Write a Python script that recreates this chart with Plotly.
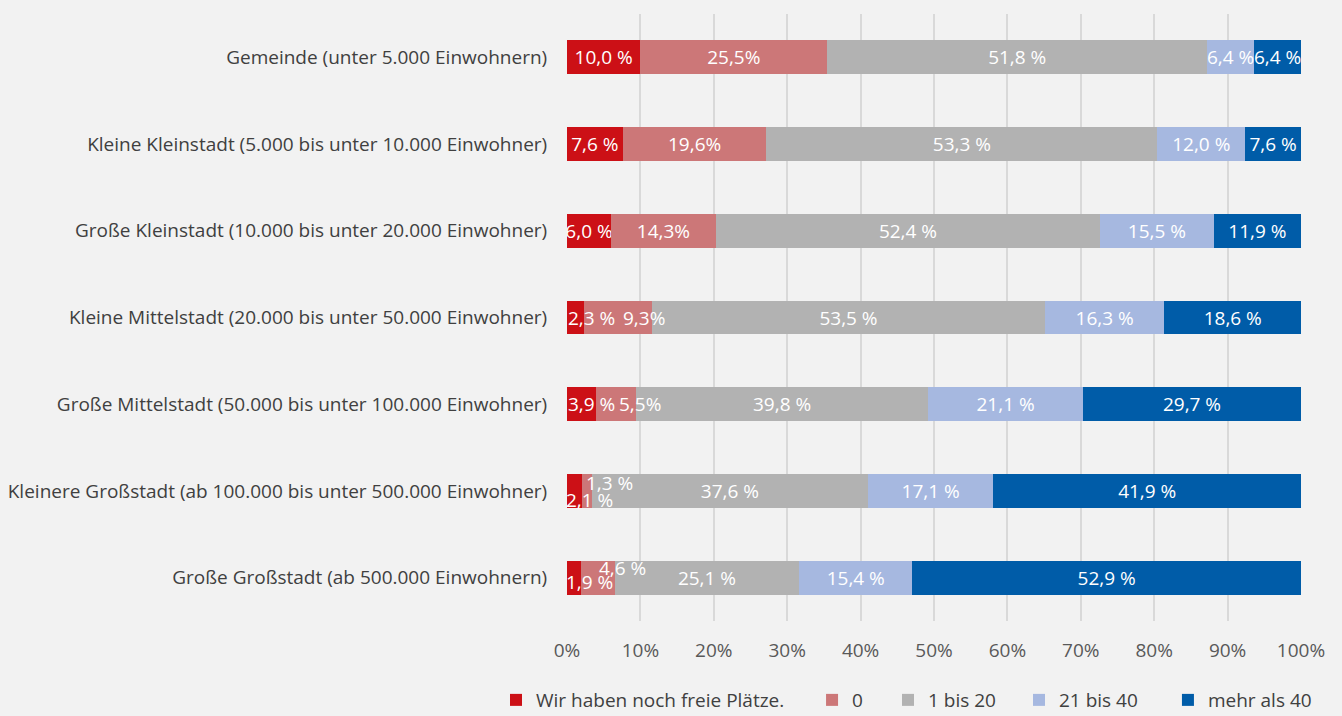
import plotly.graph_objects as go

categories = [
    "Gemeinde (unter 5.000 Einwohnern)",
    "Kleine Kleinstadt (5.000 bis unter 10.000 Einwohner)",
    "Große Kleinstadt (10.000 bis unter 20.000 Einwohner)",
    "Kleine Mittelstadt (20.000 bis unter 50.000 Einwohner)",
    "Große Mittelstadt (50.000 bis unter 100.000 Einwohner)",
    "Kleinere Großstadt (ab 100.000 bis unter 500.000 Einwohner)",
    "Große Großstadt (ab 500.000 Einwohnern)",
]

series_names = ["Wir haben noch freie Plätze.", "0", "1 bis 20", "21 bis 40", "mehr als 40"]

freie_plaetze = [10.0, 7.6, 6.0, 2.3, 3.9, 2.1, 1.9]
null_plaetze = [25.5, 19.6, 14.3, 9.3, 5.5, 1.3, 4.6]
bis_20 = [51.8, 53.3, 52.4, 53.5, 39.8, 37.6, 25.1]
bis_40 = [6.4, 12.0, 15.5, 16.3, 21.1, 17.1, 15.4]
mehr_40 = [6.4, 7.6, 11.9, 18.6, 29.7, 41.9, 52.9]

# label texts as printed in the source (some without space before %)
labels_freie = ["10,0 %", "7,6 %", "6,0 %", "2,3 %", "3,9 %", "2,1 %", "1,9 %"]
labels_null = ["25,5%", "19,6%", "14,3%", "9,3%", "5,5%", "1,3 %", "4,6 %"]
labels_bis_20 = ["51,8 %", "53,3 %", "52,4 %", "53,5 %", "39,8 %", "37,6 %", "25,1 %"]
labels_bis_40 = ["6,4 %", "12,0 %", "15,5 %", "16,3 %", "21,1 %", "17,1 %", "15,4 %"]
labels_mehr_40 = ["6,4 %", "7,6 %", "11,9 %", "18,6 %", "29,7 %", "41,9 %", "52,9 %"]

x_ticks = [0, 10, 20, 30, 40, 50, 60, 70, 80, 90, 100]

colors = ["#cc1016", "#cc7778", "#b2b2b2", "#a6b8e0", "#005ca8"]
values = [freie_plaetze, null_plaetze, bis_20, bis_40, mehr_40]
labels = [labels_freie, labels_null, labels_bis_20, labels_bis_40, labels_mehr_40]

# labels drawn as nudged annotations (Excel moved these apart): (series, row) -> (xshift, yshift)
nudged = {
    (0, 3): (16, 0), (1, 3): (26, 0),
    (0, 4): (10, 0), (1, 4): (24, 0),
    (0, 5): (15, -9), (1, 5): (22, 8),
    (0, 6): (16, -4), (1, 6): (25, 10),
}

# legend placement (container x of each legend box, one legend per series)
legend_x = [0.3696, 0.6051, 0.6617, 0.7593, 0.8703]
legend_y = 0.0223

FONT = "Open Sans"
fig = go.Figure()
for s, (name, vals, labs, col) in enumerate(zip(series_names, values, labels, colors)):
    texts = ["" if (s, r) in nudged else t for r, t in enumerate(labs)]
    fig.add_trace(go.Bar(
        name=name, y=categories, x=vals, orientation="h",
        marker=dict(color=col, line=dict(width=0)),
        text=texts, textposition="inside", insidetextanchor="middle",
        textangle=0, constraintext="none",
        textfont=dict(family=FONT, size=19, color="white"),
        hoverinfo="skip",
        legend="legend" if s == 0 else f"legend{s + 1}",
    ))

# annotations for the nudged small labels, positioned from cumulative data
for (s, r), (dx, dy) in nudged.items():
    total = sum(v[r] for v in values)
    start = sum(values[k][r] for k in range(s))
    center = (start + values[s][r] / 2) / total * 100
    fig.add_annotation(
        x=center, y=categories[r], xref="x", yref="y",
        text=labels[s][r], showarrow=False, xshift=dx, yshift=dy,
        font=dict(family=FONT, size=19, color="white"),
    )

legend_common = dict(
    orientation="h", yanchor="middle", xanchor="left", y=legend_y,
    xref="container", yref="container",
    font=dict(family=FONT, size=19, color="#404040"),
    bgcolor="rgba(0,0,0,0)", itemwidth=30,
)
legend_layout = {}
for i, lx in enumerate(legend_x):
    key = "legend" if i == 0 else f"legend{i + 1}"
    legend_layout[key] = dict(legend_common, x=lx)

fig.update_layout(
    barmode="stack", barnorm="percent", bargap=0.61,
    width=1342, height=716,
    paper_bgcolor="#f2f2f2", plot_bgcolor="#f2f2f2",
    margin=dict(l=567, r=41, t=14, b=95, autoexpand=False),
    font=dict(family=FONT, size=19, color="#404040"),
    showlegend=True,
    **legend_layout,
)
fig.update_xaxes(
    range=[0, 100], tickvals=x_ticks, ticktext=[f"{t}%" for t in x_ticks],
    showgrid=True, gridcolor="#d9d9d9", gridwidth=2, zeroline=False,
    ticks="outside", ticklen=12, tickcolor="#f2f2f2",
    tickfont=dict(family=FONT, size=19, color="#595959"),
    fixedrange=True, automargin=False,
)
fig.update_yaxes(
    autorange="reversed", showgrid=False, ticks="outside", ticklen=15,
    tickcolor="#f2f2f2", tickfont=dict(family=FONT, size=19, color="#404040"),
    fixedrange=True, automargin=False,
)

fig.write_html(
    "out.html",
    config={"displayModeBar": False},
    post_script="document.body.style.margin='0';document.body.style.background='#f2f2f2';",
)
